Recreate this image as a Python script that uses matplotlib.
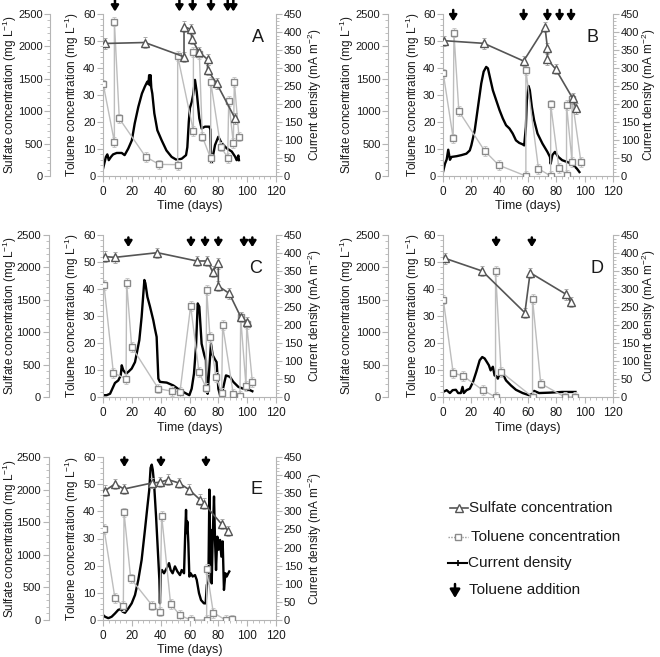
import matplotlib
matplotlib.use('Agg')
import matplotlib.pyplot as plt
from matplotlib.lines import Line2D
from matplotlib.ticker import MultipleLocator

plt.rcParams['font.family'] = ['Liberation Sans', 'DejaVu Sans']
plt.rcParams['mathtext.fontset'] = 'custom'
plt.rcParams['mathtext.rm'] = 'Liberation Sans'
plt.rcParams['mathtext.it'] = 'Liberation Sans:italic'
plt.rcParams['mathtext.bf'] = 'Liberation Sans:bold'

# ---------------- Panel A ----------------
A_sulf_day = [1.4, 29, 56.2, 56.2, 60.8, 61.7, 66.5, 72.5, 72.5, 78.8, 91.6]
A_sulf = [2045, 2060, 1840, 2305, 2265, 2110, 1915, 1800, 1640, 1430, 890]
A_tol_day = [0.2, 7.9, 7.9, 11.3, 29.6, 39, 51.8, 51.8, 62.7, 62.7, 66.8, 68.9,
             74.7, 74.7, 81.6, 86.5, 87.2, 90.4, 91.1, 94.3]
A_tol = [33.9, 12.6, 57.2, 21.3, 7.1, 4.3, 4.2, 44.4, 16.7, 45.8, 45.2, 14.6,
         6.5, 34.9, 10.9, 6.8, 27.8, 12.1, 34.9, 14.6]
A_cur_day = [0, 2, 3, 4, 5.5, 7, 9.5, 13, 15, 17.5, 20, 22, 24.5, 27, 29, 30.7, 31.5,
             32, 32.6, 33, 33.5, 34.2, 35.6, 37.7, 40.7, 44, 47.6, 51, 54.6, 57.6, 58.5,
             59.5, 60.3, 61.5, 62.5, 63.8, 65, 66.8, 68.4, 70.7, 73.7, 74.5, 74.9, 75.4,
             77.7, 80, 82.3, 85.8, 89.3, 91.6, 92.7, 93.9, 94.3]
A_cur = [20, 53, 60, 44, 53, 60, 64, 64, 58, 76, 99, 146, 192, 229, 248, 262, 255,
         280, 252, 280, 245, 229, 174, 127, 99, 71, 53, 45, 48, 58, 80,
         150, 189, 205, 225, 267, 234, 160, 132, 137, 137, 129, 50, 37,
         86, 109, 91, 77, 68, 54, 44, 57, 44]
A_add = [8.3, 53, 62.2, 74.9, 86.5, 90.4]

# ---------------- Panel B ----------------
B_sulf_day = [0.9, 28.9, 56.9, 72, 73.7, 73.7, 79.5, 91.6, 93.9]
B_sulf = [2088, 2047, 1774, 2296, 1980, 1800, 1650, 1196, 1042]
B_tol_day = [0.2, 7.2, 7.7, 11.2, 29.4, 39.4, 58.5, 58.5, 67.4, 76, 76, 81.8,
             87.2, 87.2, 91.1, 91.1, 97.4]
B_tol = [38, 13.9, 53.1, 24, 9.3, 4, 0, 39.2, 2.7, 0, 26.5, 3, 0.5, 26.2, 5.3, 28.6, 5.1]
B_cur_day = [0, 1.4, 2.6, 3.7, 4.9, 6, 9.6, 13, 16.5, 18.9, 20, 22.4, 24.7, 27, 28.7,
             30.5, 31.7, 33.3, 35.2, 37.5, 39.9, 42.2, 44.5, 46.9, 49.2, 51.5, 53.8,
             56.2, 57.3, 58.5, 59.2, 60.4, 61.3, 62.7, 64.3, 66.7, 70.2, 73.7, 75.5,
             76, 77.2, 79, 81.4, 84.1, 87.6, 91.1, 94.6, 96.3]
B_cur = [11, 34, 46, 73, 45, 53, 55, 58, 62, 71, 85, 127, 192, 257, 290,
         303, 299, 271, 238, 211, 183, 160, 141, 132, 118, 99, 92,
         88, 85, 136, 211, 250, 238, 192, 155, 118, 90, 67, 53,
         34, 58, 67, 53, 44, 39, 34, 20, 11]
B_add = [7.2, 56.9, 73.7, 82.3, 90.4]

# ---------------- Panel C ----------------
C_sulf_day = [1.4, 8.3, 37.7, 65, 72.4, 76, 80, 80, 87.6, 95.5, 99.7]
C_sulf = [2166, 2155, 2227, 2099, 2099, 1934, 2063, 1712, 1598, 1237, 1160]
C_tol_day = [0.7, 7.2, 16, 16.4, 19.9, 38.4, 48.1, 53.4, 60.8, 66.6, 71.4, 71.9,
             74.2, 78.4, 82.3, 83, 90.4, 95, 95.5, 99.2, 99.7, 103.6]
C_tol = [41.5, 8.9, 6.8, 42.3, 18.6, 3.1, 2.1, 1.9, 33.7, 9.3, 3.5, 39.6,
         22.3, 7.4, 1.5, 26.6, 1, 0.4, 29.5, 4, 26.9, 5.6]
C_cur_day = [0, 2.5, 4.9, 8.3, 10.6, 12.3, 13, 14.1, 16, 17.6, 19.9, 22.2, 23.4, 25.2,
             26.8, 28, 28.7, 29.4, 30.8, 32.6, 34.9, 36, 37.2, 38.4, 39.5, 44.2, 48.8,
             53.4, 58, 59.9, 61.5, 63.1, 64.5, 65.7, 66.8, 68.4, 70.3, 71.4, 71.9, 72.6,
             73.8, 74.9, 76.1, 77.7, 78.8, 80, 81.2, 83, 85.3, 88.1, 90.4, 93.9, 97.3,
             102, 103.6]
C_cur = [5, 5, 9, 39, 46, 60, 88, 74, 65, 70, 79, 97, 121, 158,
         223, 288, 325, 316, 278, 251, 213, 190, 167, 51, 42, 40, 32,
         19, 9, 5, 23, 65, 139, 260, 251, 148, 116, 102, 19, 9,
         84, 148, 116, 104, 97, 23, 5, 19, 60, 56, 42, 28, 23,
         19, 16]
C_add = [17.6, 61, 70.8, 80, 97.8, 103.6]

# ---------------- Panel D ----------------
D_sulf_day = [1.4, 27.7, 57.8, 61.5, 87, 90]
D_sulf = [2140, 1944, 1300, 1918, 1583, 1469]
D_tol_day = [0.2, 7.2, 14.2, 28.2, 37.1, 37.1, 41, 63.2, 63.2, 69, 86, 93.5]
D_tol = [36.1, 8.9, 7.8, 2.5, 0, 46.7, 9.3, 0, 36.3, 5, 0, 0]
D_cur_day = [0, 2.6, 4.9, 6.8, 9.1, 10.7, 12.6, 13.8, 14.7, 16.6, 18.9, 21.2, 23.5,
             25.9, 27.7, 29.4, 31, 32.4, 33.6, 35.2, 36.4, 37.5, 38.7, 40.3, 41.7,
             42.7, 44.5, 48, 51.5, 56.2, 60.8, 63.2, 64.3, 67.8, 74.8, 84.1, 93.5]
D_cur = [14, 19, 11, 19, 20, 11, 11, 28, 11, 19, 23, 42, 70,
         102, 111, 107, 97, 88, 74, 84, 60, 58, 51, 65, 72,
         60, 46, 32, 20, 11, 5, 9, 17, 11, 12, 14, 14]
D_add = [37.5, 62.7]

# ---------------- Panel E ----------------
E_sulf_day = [1.4, 8.3, 14.6, 33.8, 39.5, 45.3, 52.7, 59.7, 67.3, 70, 82.3, 86.9]
E_sulf = [1983, 2087, 2009, 2101, 2113, 2152, 2101, 2000, 1845, 1784, 1471, 1368]
E_tol_day = [0.7, 8.3, 14.1, 14.6, 19.2, 34.2, 39.5, 40.7, 46.9, 53.4, 60.8, 71.9,
             71.9, 76.5, 85.1, 89.7]
E_tol = [33.6, 8, 5.2, 39.6, 15.3, 5.3, 3.1, 38.4, 5.9, 1.8, 0, 0, 18.8, 2.7, 0, 0.2]
E_cur_day = [0, 1.4, 3.7, 6, 8.3, 10.6, 12.3, 13.6, 15.3, 17.6, 19.9, 22.2, 24.5,
             26.8, 29.1, 30.8, 32.1, 33, 33.8, 34.5, 35.4, 36.8, 37.9, 39.1, 39.5,
             40, 40.9, 42.3, 44.2, 45.8, 46.9, 48.3, 49.9, 51.6, 53.4, 54.6, 56.2,
             57.1, 57.6, 58, 58.5, 59.2, 59.9, 60.8, 62.2, 63.8, 65, 66.6, 68, 70,
             71.2, 72, 73.1, 73.8, 74.2, 74.7, 75.4, 76.1, 77, 77.7, 78.4, 79.3,
             80.2, 81.2, 82.1, 83, 83.9, 84.9, 85.8, 86.9, 87.6]
E_cur = [14, 9, 5, 9, 18, 28, 30, 23, 20, 32, 46, 69, 111,
         166, 249, 313, 360, 420, 429, 415, 378, 286, 203, 111, 46,
         129, 138, 129, 143, 157, 138, 129, 148, 134, 124, 138, 129,
         249, 304, 240, 272, 212, 120, 129, 120, 124, 111, 74, 55, 46,
         46, 97, 106, 360, 157, 249, 101, 230, 341, 221, 138, 230,
         194, 221, 175, 217, 83, 129, 120, 129, 134]
E_add = [14.8, 40.2, 71.4]

SULF_ERR = 80
TOL_ERR = 1.8

W, H = 660, 657
fig = plt.figure(figsize=(W / 100, H / 100), dpi=100)

SPINE = '#b5b5b5'
TXT = '#1a1a1a'
TICK_FS = 8
LAB_FS = 8.5


def rect_px(x0, y0, x1, y1):
    return [x0 / W, 1 - y1 / H, (x1 - x0) / W, (y1 - y0) / H]


def style_axis(a, axis):
    a.tick_params(axis=axis, which='major', colors=SPINE, labelcolor=TXT,
                  labelsize=TICK_FS, length=4, width=0.8, pad=1.5)
    a.tick_params(axis=axis, which='minor', colors=SPINE, length=2, width=0.6)


def panel(rect, letter, letter_pos, sd, sv, td, tv, cd, cv, adds, arrow_tail, arrow_head,
          sulf_off, lab_x):
    x0_px = rect[0] * W
    w_px = rect[2] * W
    ax = fig.add_axes(rect)
    ax_t = ax.twinx()
    ax_s = ax.twinx()
    for a in (ax, ax_t, ax_s):
        for sp in a.spines.values():
            sp.set_visible(False)
        a.patch.set_visible(False)
    # current density (host, right axis)
    ax.plot(cd, cv, color='black', lw=1.7, zorder=2)
    ax.set_xlim(0, 120)
    ax.set_ylim(0, 450)
    ax.yaxis.tick_right()
    ax.yaxis.set_label_position('right')
    ax.spines['bottom'].set_visible(True)
    ax.spines['right'].set_visible(True)
    ax.spines['bottom'].set_color(SPINE)
    ax.spines['right'].set_color(SPINE)
    ax.xaxis.set_major_locator(MultipleLocator(20))
    ax.xaxis.set_minor_locator(MultipleLocator(4))
    ax.yaxis.set_major_locator(MultipleLocator(50))
    ax.yaxis.set_minor_locator(MultipleLocator(10))
    style_axis(ax, 'x')
    style_axis(ax, 'y')
    ax.tick_params(axis='x', which='major', pad=3, labelsize=8.5)
    ax.set_ylabel('Current density (mA m$^{-2}$)', fontsize=LAB_FS, color=TXT)
    ax.yaxis.set_label_coords((lab_x[2] - x0_px) / w_px, 0.5)
    ax.set_xlabel('Time (days)', fontsize=LAB_FS + 0.5, color=TXT, labelpad=2)

    # toluene (left axis)
    ax_t.set_ylim(0, 60)
    ax_t.yaxis.tick_left()
    ax_t.yaxis.set_label_position('left')
    ax_t.spines['left'].set_visible(True)
    ax_t.spines['left'].set_color(SPINE)
    ax_t.yaxis.set_major_locator(MultipleLocator(10))
    ax_t.yaxis.set_minor_locator(MultipleLocator(2))
    style_axis(ax_t, 'y')
    ax_t.set_ylabel('Toluene concentration (mg L$^{-1}$)', fontsize=LAB_FS, color=TXT)
    ax_t.yaxis.set_label_coords((lab_x[1] - x0_px) / w_px, 0.5)
    ax_t.errorbar(td, tv, yerr=TOL_ERR, fmt='none', ecolor='#c8c8c8', elinewidth=0.7,
                  capsize=1.5, capthick=0.7, zorder=2)
    ax_t.plot(td, tv, color='#bdbdbd', lw=1.0, marker='s', ms=5, mfc='white',
              mec='#8a8a8a', mew=1.0, zorder=3)

    # sulfate (outer left axis)
    ax_s.set_ylim(0, 2500)
    ax_s.yaxis.tick_left()
    ax_s.yaxis.set_label_position('left')
    ax_s.spines['left'].set_visible(True)
    ax_s.spines['left'].set_color(SPINE)
    ax_s.spines['left'].set_position(('outward', sulf_off))
    ax_s.yaxis.set_major_locator(MultipleLocator(500))
    ax_s.yaxis.set_minor_locator(MultipleLocator(100))
    style_axis(ax_s, 'y')
    ax_s.set_ylabel('Sulfate concentration (mg L$^{-1}$)', fontsize=LAB_FS, color=TXT)
    ax_s.yaxis.set_label_coords((lab_x[0] - x0_px) / w_px, 0.5)
    ax_s.errorbar(sd, sv, yerr=SULF_ERR, fmt='none', ecolor='#a8a8a8', elinewidth=0.7,
                  capsize=1.5, capthick=0.7, zorder=2)
    ax_s.plot(sd, sv, color='#555555', lw=1.2, marker='^', ms=6, mfc='white',
              mec='#555555', mew=1.0, zorder=3)

    # toluene additions
    for d in adds:
        ax_s.annotate('', xy=(d, arrow_head), xycoords=('data', 'axes fraction'),
                      xytext=(d, arrow_tail), textcoords=('data', 'axes fraction'),
                      arrowprops=dict(arrowstyle='-|>,head_width=0.22,head_length=0.35',
                                      color='black', lw=1.8, shrinkA=0, shrinkB=0),
                      annotation_clip=False)
    ax_s.text(letter_pos[0], letter_pos[1], letter, transform=ax_s.transAxes,
              fontsize=13, ha='center', va='center', color=TXT)
    return ax


# label anchor x (pixels): sulfate label right edge, toluene label right edge, current label left edge
LEFT_LAB = (19, 81, 306)
RIGHT_LAB = (356, 422, 640)

panel(rect_px(103, 14, 276, 176), 'A', (0.896, 0.852), A_sulf_day, A_sulf, A_tol_day, A_tol,
      A_cur_day, A_cur, A_add, 1.086, 1.015, 38, LEFT_LAB)
panel(rect_px(443, 14, 613, 176), 'B', (0.88, 0.858), B_sulf_day, B_sulf, B_tol_day, B_tol,
      B_cur_day, B_cur, B_add, 1.025, 0.955, 39.5, RIGHT_LAB)
panel(rect_px(103, 235, 276, 397), 'C', (0.879, 0.796), C_sulf_day, C_sulf, C_tol_day, C_tol,
      C_cur_day, C_cur, C_add, 0.985, 0.925, 39, LEFT_LAB)
panel(rect_px(443, 235, 613, 397), 'D', (0.906, 0.796), D_sulf_day, D_sulf, D_tol_day, D_tol,
      D_cur_day, D_cur, D_add, 0.985, 0.925, 39.5, RIGHT_LAB)
panel(rect_px(103, 457, 276, 620), 'E', (0.89, 0.80), E_sulf_day, E_sulf, E_tol_day, E_tol,
      E_cur_day, E_cur, E_add, 0.998, 0.938, 39, LEFT_LAB)

# ---------------- legend (manual, in pixel positions) ----------------
def fx(x):
    return x / W


def fy(y):
    return 1 - y / H


fig.add_artist(Line2D([fx(450), fx(468)], [fy(508), fy(508)], color='#555555', lw=1.2))
fig.add_artist(Line2D([fx(459)], [fy(508)], marker='^', ms=6, mfc='white', mec='#555555',
                      mew=1.0, lw=0))
fig.text(fx(469), fy(508), 'Sulfate concentration', fontsize=11, va='center', ha='left',
         color=TXT)

fig.add_artist(Line2D([fx(448), fx(468)], [fy(537), fy(537)], color='#9a9a9a', lw=1.0,
                      ls=(0, (1, 1))))
fig.add_artist(Line2D([fx(458)], [fy(537)], marker='s', ms=5, mfc='white', mec='#8a8a8a',
                      mew=1.0, lw=0))
fig.text(fx(471), fy(537), 'Toluene concentration', fontsize=11, va='center', ha='left',
         color=TXT)

fig.add_artist(Line2D([fx(448), fx(467)], [fy(563), fy(563)], color='black', lw=1.5))
fig.add_artist(Line2D([fx(458)], [fy(563)], marker='|', ms=4, color='black', mew=1.2, lw=0))
fig.text(fx(468), fy(563), 'Current density', fontsize=11, va='center', ha='left',
         color=TXT)

fig.add_artist(matplotlib.patches.FancyArrowPatch(
    (fx(455), fy(584)), (fx(455), fy(598)), transform=fig.transFigure,
    arrowstyle='-|>,head_width=3,head_length=5', color='black', lw=1.8, shrinkA=0, shrinkB=0))
fig.text(fx(469), fy(590), 'Toluene addition', fontsize=11, va='center', ha='left',
         color=TXT)

fig.savefig('out.png', dpi=100)
